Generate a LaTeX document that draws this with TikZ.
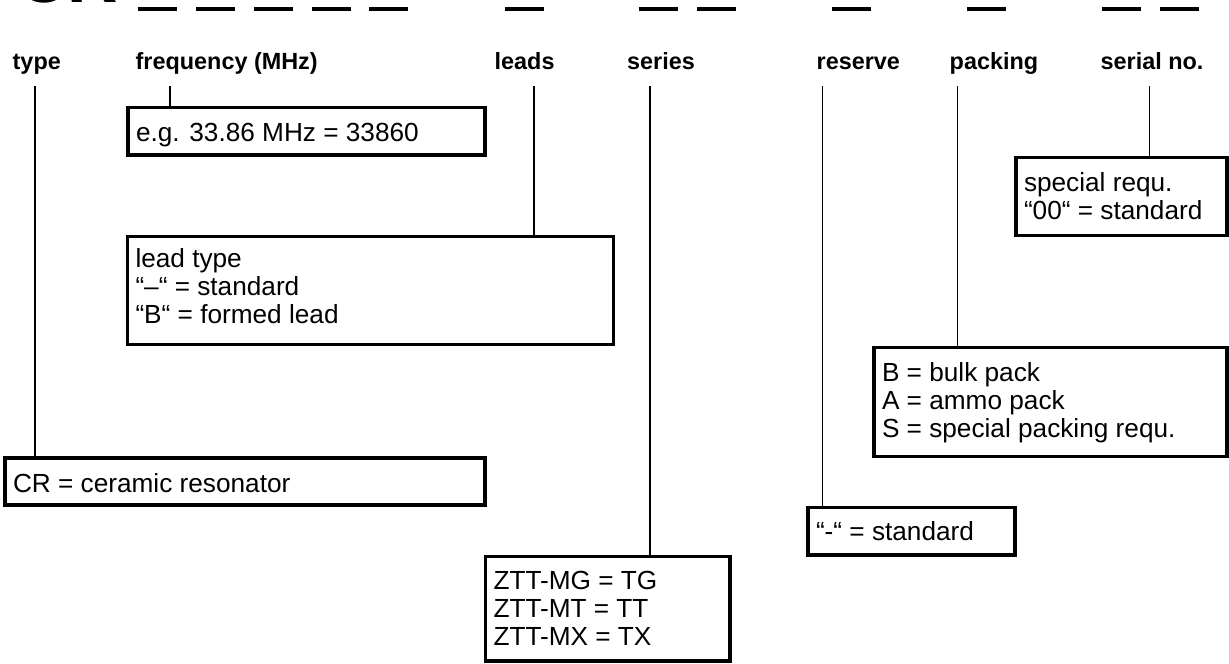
\documentclass[tikz,border=0pt]{standalone}
\usepackage{fontspec}
\newfontfamily\boxfont{Liberation Sans}
\newfontfamily\labfont{Liberation Sans Bold}
\newfontfamily\bigfont{Liberation Sans Bold}
\newcommand\bt[2]{\makebox[#1][l]{\begin{tabular}[t]{@{}l@{}}#2\end{tabular}}}
\tikzset{
  infobox/.style={draw, line width=3.2pt, rectangle, anchor=north west,
    inner xsep=8pt, inner ysep=0pt, outer sep=0pt,
    font=\boxfont\fontsize{26.2}{28}\selectfont},
  hdr/.style={anchor=base west, inner sep=0pt, font=\labfont\fontsize{23.4}{27}\selectfont},
  conn/.style={line width=1.3pt},
  dashmark/.style={line width=4pt}
}
\begin{document}
\begin{tikzpicture}[x=1pt,y=-1pt]
\useasboundingbox (0,0) rectangle (1229,664);
\begin{scope}
  \clip (0,0) rectangle (1229,664);
  \node[anchor=base west, inner sep=0pt, font=\bigfont\fontsize{70}{80}\selectfont] (bigcr) at (17,2.5) {CR};
\end{scope}
% code dashes
\foreach \a in {137.6,196.1,253.9,312,368.9,504.5,638.8,696.9,831.9,967,1102,1160}
  \draw[dashmark] (\a,8.7) -- ++(39,0);
% headers
\node[hdr] (htype) at (12.5,69) {type};
\node[hdr] (hfreq) at (135.5,69) {frequency (MHz)};
\node[hdr] (hleads) at (494.5,69) {leads};
\node[hdr] (hseries) at (627,69) {series};
\node[hdr] (hreserve) at (816.5,69) {reserve};
\node[hdr] (hpacking) at (949.5,69) {packing};
\node[hdr] (hserial) at (1100.5,69) {serial no.};
% boxes
\node[infobox, text height=34.2pt, text depth=13.3pt] (bfreq) at (128,107.5)
  {\bt{341pt}{e.g. 33.86 MHz = 33860}};
\node[infobox, text height=31pt, text depth=77pt] (blead) at (127.5,236.5)
  {\bt{470pt}{lead type\\ “–“ = standard\\ “B“ = formed lead}};
\node[infobox, text height=34pt, text depth=13pt] (btype) at (5,458)
  {\bt{464pt}{CR = ceramic resonator}};
\node[infobox, text height=32.5pt, text depth=72pt] (bseries) at (485.5,556.5)
  {\bt{228.5pt}{ZTT-MG = TG\\ ZTT-MT = TT\\ ZTT-MX = TX}};
\node[infobox, text height=33.2pt, text depth=14.3pt] (breserve) at (808,507.5)
  {\bt{191pt}{“-“ = standard}};
\node[infobox, text height=34.2pt, text depth=74.8pt] (bpacking) at (874,347.5)
  {\bt{337pt}{B = bulk pack\\ A = ammo pack\\ S = special packing requ.}};
\node[infobox, text height=34.2pt, text depth=43.8pt] (bserial) at (1016,157.5)
  {\bt{195pt}{special requ.\\ “00“ = standard}};
% connector tops
\coordinate (ctype) at (35,86);
\coordinate (cfreq) at (170,86);
\coordinate (cleads) at (534,86);
\coordinate (cseries) at (650,86);
\coordinate (creserve) at (822.5,86);
\coordinate (cpacking) at (957.5,86);
\coordinate (cserial) at (1149.5,86);
\draw[conn] (ctype) -- (ctype |- btype.north);
\draw[conn] (cfreq) -- (cfreq |- bfreq.north);
\draw[conn] (cleads) -- (cleads |- blead.north);
\draw[conn] (cseries) -- (cseries |- bseries.north);
\draw[conn] (creserve) -- (creserve |- breserve.north);
\draw[conn] (cpacking) -- (cpacking |- bpacking.north);
\draw[conn] (cserial) -- (cserial |- bserial.north);
\end{tikzpicture}
\end{document}
